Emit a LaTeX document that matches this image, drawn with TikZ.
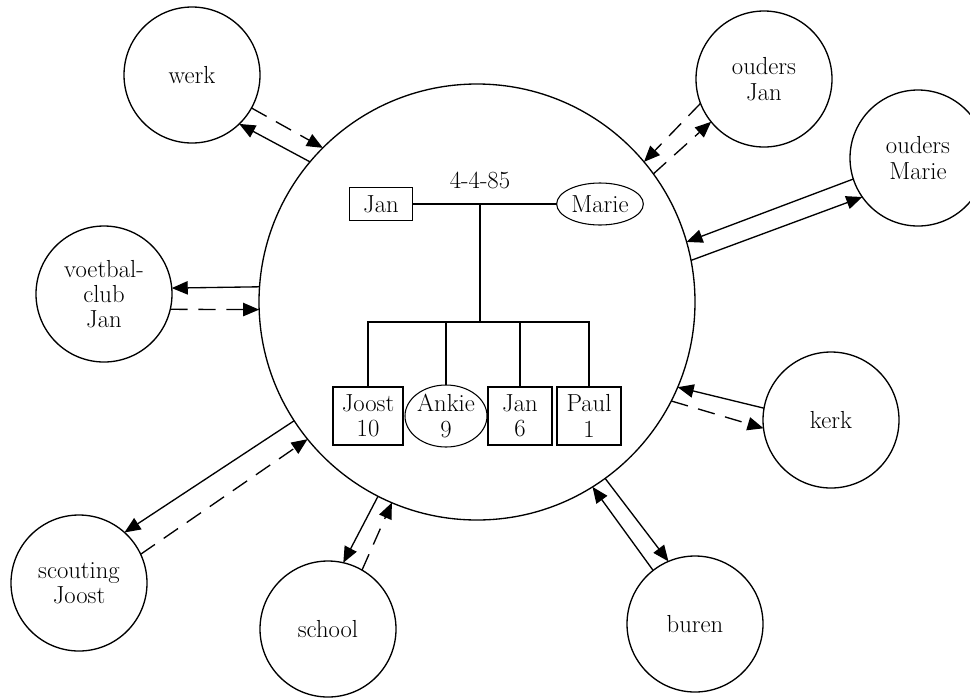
\documentclass[tikz,border=0pt]{standalone}
\usetikzlibrary{arrows.meta,shapes.geometric}
\begin{document}
\begin{tikzpicture}[x=0.75pt,y=-0.75pt,
  every node/.style={font=\fontsize{18.5}{19}\selectfont},
  bigc/.style={circle, draw, line width=1pt, minimum size=327pt, inner sep=0pt, outer sep=0pt},
  outerc/.style={circle, draw, line width=1pt, minimum size=102pt, inner sep=0pt, outer sep=0pt, align=center},
  rbox/.style={rectangle, draw, line width=0.8pt, inner sep=0pt, outer sep=0pt, align=center},
  ebox/.style={ellipse, draw, line width=0.8pt, inner sep=0pt, outer sep=0pt, align=center},
  tree/.style={line width=0.8pt},
  con/.style={line width=1pt, -{Triangle[length=12pt,width=10pt]}},
  dcon/.style={con, dash pattern=on 13pt off 8pt}
]
\useasboundingbox (0,0) rectangle (970,697);
\clip (0,0) rectangle (970,697);
\fill[white] (0,0) rectangle (970,697);

% main circle and outer circles
\node[bigc] (big) at (477,302) {};
\node[outerc] (werk) at (192,75) {werk};
\node[outerc] (ojan) at (764,79) {ouders\\Jan};
\node[outerc] (omarie) at (918,158) {ouders\\Marie};
\node[outerc] (vc) at (104,294) {voetbal-\\club\\Jan};
\node[outerc] (kerk) at (831,420) {kerk};
\node[outerc] (sj) at (79,583) {scouting\\Joost};
\node[outerc] (school) at (328,629) {school};
\node[outerc] (buren) at (695,624) {buren};

% family tree
\node (date) at (480,180) {4-4-85};
\node[rbox, minimum width=47pt, minimum height=25pt] (jan) at (381,204) {Jan};
\node[ebox, minimum width=65pt, minimum height=31.5pt] (marie) at (600,204) {Marie};
\node[rbox, minimum width=52.5pt, minimum height=43.5pt] (joost) at (368,416) {Joost\\10};
\node[ebox, minimum width=61.5pt, minimum height=46.5pt] (ankie) at (446,416) {\makebox[38pt]{Ankie}\\9};
\node[rbox, minimum width=48pt, minimum height=43.5pt] (jan2) at (520,416) {Jan\\6};
\node[rbox, minimum width=48pt, minimum height=43.5pt] (paul) at (589,416) {Paul\\1};
\coordinate (mid) at (480,204);
\coordinate (bar) at (480,322);
\draw[tree] (jan) -- (marie);
\draw[tree] (mid) -- (bar);
\draw[tree] (joost.north) -- (joost.north |- bar) -- (paul.north |- bar) -- (paul.north);
\draw[tree] (ankie.north) -- (ankie.north |- bar);
\draw[tree] (jan2.north) -- (jan2.north |- bar);

% connectors
\draw[con]  (big.140.3) -- (werk.-46.1);
\draw[dcon] (werk.-29.6) -- (big.135.6);

\draw[dcon] (ojan.-159.6) -- (big.40.8);
\draw[dcon] (big.36.6) -- (ojan.-141.5);

\draw[con] (omarie.-162.8) -- (big.16.9);
\draw[con] (big.11.0) -- (omarie.-145.5);

\draw[con]  (big.176.3) -- (vc.5.1);
\draw[dcon] (vc.-13.6) -- (big.182.1);

\draw[con]  (kerk.170) -- (big.-23);
\draw[dcon] (big.-27.7) -- (kerk.-173.7);

\draw[con]  (big.-147.3) -- (sj.48.3);
\draw[dcon] (sj.25.8) -- (big.-141);

\draw[con]  (big.-117.6) -- (school.77.4);
\draw[dcon] (school.60.9) -- (big.-113.4);

\draw[con] (buren.128.5) -- (big.-58.8);
\draw[con] (big.-54.2) -- (buren.113.5);
\end{tikzpicture}
\end{document}
